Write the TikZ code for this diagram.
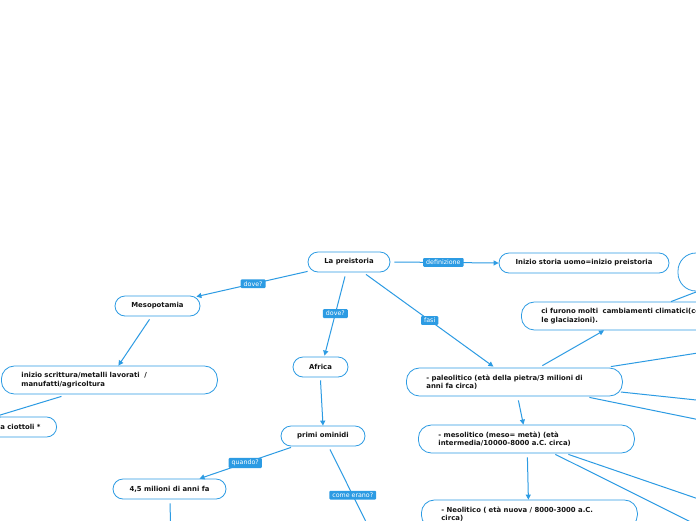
\documentclass[tikz,border=0pt]{standalone}
\usepackage{fontspec}
\setmainfont{DejaVu Sans}
\usetikzlibrary{arrows.meta}
\definecolor{mblue}{HTML}{2C9BE3}
\definecolor{mtext}{HTML}{141414}
\begin{document}
\begin{tikzpicture}[x=1pt,y=-1pt,
  box/.style={draw=mblue, line width=0.8pt, fill=white, rounded corners=10pt,
    minimum height=20pt, inner sep=0pt, text=mtext,
    font=\fontsize{6.9}{8.5}\bfseries\selectfont},
  wbox/.style={box, align=left, inner xsep=20pt, text width=#1,
    minimum height=28pt, rounded corners=13pt},
  lab/.style={fill=mblue, text=white, font=\fontsize{6.3}{7}\selectfont,
    inner xsep=3pt, inner ysep=2pt, rounded corners=1pt},
  conn/.style={draw=mblue, line width=1pt},
  arr/.style={conn, -{Triangle[length=5pt,width=5pt]}}
]
\useasboundingbox (0,0) rectangle (696,520);
\fill[white] (0,0) rectangle (696,520);
\clip (0,0) rectangle (696,520);

% nodes
\node[box, minimum width=82pt] (pre) at (349,262) {La preistoria};
\node[box, minimum width=170pt] (def) at (584,263) {Inizio storia uomo=inizio preistoria};
\node[box, minimum width=100pt, minimum height=38pt, rounded corners=18pt] (circ) at (728,272) {};
\node[wbox=200pt, anchor=west] (ci) at (521,316) {ci furono molti~ cambiamenti climatici(come\\le glaciazioni).};
\node[box, minimum width=85pt] (meso) at (157.5,306) {Mesopotamia};
\node[wbox=176pt, anchor=west] (scr) at (1,380) {inizio scrittura/metalli lavorati~ /\\manufatti/agricoltura};
\node[box, inner xsep=16pt, anchor=east] (cio) at (57,427) {a ciottoli *};
\node[box, minimum width=55pt] (afr) at (320.5,367) {Africa};
\node[box, minimum width=84pt] (omi) at (323,436) {primi ominidi};
\node[box, minimum width=113pt] (mil) at (169.5,489) {4,5 milioni di anni fa};
\node[wbox=176pt, anchor=west] (pal) at (406,382) {- paleolitico (età della pietra/3 milioni di\\anni fa circa)};
\node[wbox=176pt, anchor=west] (mes) at (418,439) {- mesolitico (meso= metà) (età\\intermedia/10000-8000 a.C. circa)};
\node[wbox=176pt, anchor=west] (neo) at (421,514) {- Neolitico ( età nuova / 8000-3000 a.C.\\circa)};

% off-picture ends
\coordinate (p1) at (781,340);
\coordinate (p2) at (772,408);
\coordinate (p3) at (803,441);
\coordinate (m1) at (824,542);
\coordinate (m2) at (755,554);
\coordinate (o1) at (375,540);
\coordinate (l1) at (171,540);

% connectors
\draw[arr] ([shift={(4,0)}]pre.east) -- (def.west)
  node[lab, pos=0.47] {definizione};
\draw[arr] ([shift={(0,-1)}]pre.south west) -- ([shift={(-4,1)}]meso.north east)
  node[lab, pos=0.49] {dove?};
\draw[arr] ([shift={(-4,4)}]pre.south) -- ([shift={(4,-1)}]afr.north)
  node[lab, pos=0.47] {dove?};
\draw[arr] ([shift={(17,2)}]pre.south) -- ([shift={(-21,-1)}]pal.north)
  node[lab, pos=0.5] {fasi};
\draw[arr] ([shift={(28,-2)}]pal.north) -- ([shift={(83,0)}]ci.south west);
\draw[conn] ([shift={(150,0)}]ci.north west) -- ([shift={(20,0)}]circ.south west);
\draw[conn] ([shift={(-12,-1)}]pal.north east) -- (p1);
\draw[conn] ([shift={(-2,10)}]pal.east) -- (p2);
\draw[conn] ([shift={(75,1)}]pal.south) -- (p3);
\draw[conn] ([shift={(42,1)}]mes.south) -- (m1);
\draw[conn] ([shift={(29,1)}]mes.south) -- (m2);
\draw[arr] ([shift={(-8,3)}]meso.south) -- ([shift={(9,0)}]scr.north);
\draw[arr] ([shift={(-48,2)}]scr.south) -- ([shift={(-62,0)}]cio.north east);
\draw[arr] ([shift={(0,3)}]afr.south) -- (omi.north);
\draw[arr] ([shift={(-32,1)}]omi.south) -- ([shift={(30,0)}]mil.north)
  node[lab, pos=0.5] {quando?};
\draw[arr] ([shift={(7,3)}]omi.south) -- (o1)
  node[lab, pos=0.505] {come erano?};
\draw[arr] ([shift={(0.5,4)}]mil.south) -- (l1);
\draw[arr] ([shift={(4,4)}]pal.south) -- ([shift={(-3,0)}]mes.north);
\draw[arr] ([shift={(1,4)}]mes.south) -- ([shift={(-1,0)}]neo.north);
\end{tikzpicture}
\end{document}
